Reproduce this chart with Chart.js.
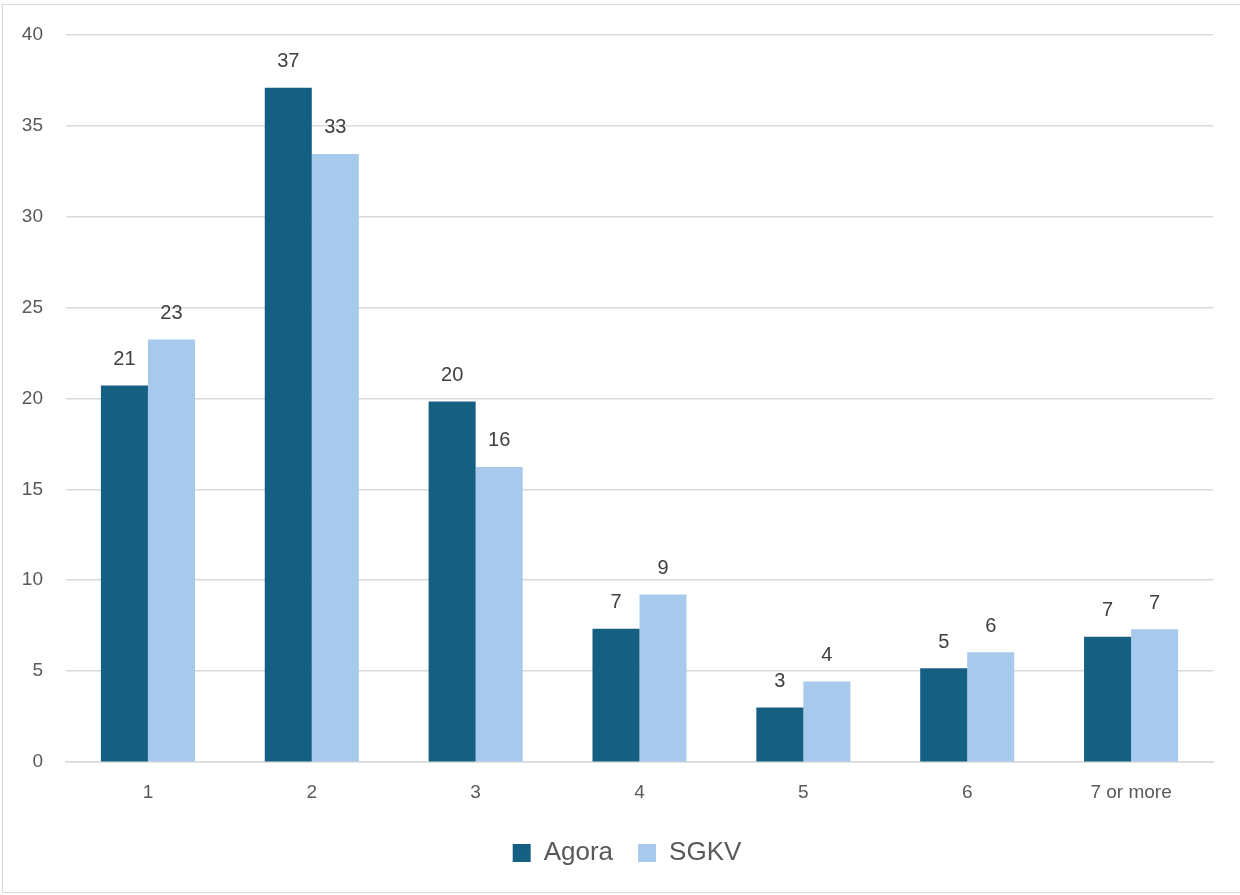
<!DOCTYPE html>
<html>
<head>
<meta charset="utf-8">
<script src="https://cdn.jsdelivr.net/npm/chart.js@4/dist/chart.umd.min.js"></script>
<style>
  html, body { margin: 0; padding: 0; background: #ffffff; }
  #wrap { position: relative; width: 1240px; height: 895px; }
  #frame { position: absolute; left: 2px; top: 4px; width: 1250px; height: 889px;
           border: 1px solid #d9d9d9; box-sizing: border-box; pointer-events: none; }
</style>
</head>
<body>
<div id="wrap">
  <canvas id="chart" width="1240" height="895"></canvas>
  <div id="frame"></div>
</div>
<script>
// Number of items per respondent, share (%) for each survey
const categories = ['1', '2', '3', '4', '5', '6', '7 or more'];
const agoraValues = [20.7, 37.07, 19.82, 7.33, 3.0, 5.16, 6.89];
const sgkvValues  = [23.23, 33.43, 16.23, 9.21, 4.43, 6.04, 7.31];
const yTicks = [0, 5, 10, 15, 20, 25, 30, 35, 40];

const FONT = "'Liberation Sans', Arial, sans-serif";

// Draws the rounded value above each bar
const valueLabels = {
  id: 'valueLabels',
  afterDatasetsDraw(chart) {
    const ctx = chart.ctx;
    ctx.save();
    ctx.font = '20px ' + FONT;
    ctx.fillStyle = '#404040';
    ctx.textAlign = 'center';
    ctx.textBaseline = 'middle';
    chart.data.datasets.forEach((ds, i) => {
      chart.getDatasetMeta(i).data.forEach((bar, j) => {
        ctx.fillText(String(Math.round(ds.data[j])), bar.x, bar.y - 26);
      });
    });
    ctx.restore();
  }
};

new Chart(document.getElementById('chart'), {
  type: 'bar',
  data: {
    labels: categories,
    datasets: [
      { label: 'Agora', data: agoraValues, backgroundColor: '#156082', borderWidth: 0 },
      { label: 'SGKV',  data: sgkvValues,  backgroundColor: '#a6c9ec', borderWidth: 0 }
    ]
  },
  options: {
    responsive: false,
    animation: false,
    devicePixelRatio: 1,
    layout: { padding: { top: 23, right: 0, left: 14, bottom: 19 } },
    datasets: { bar: { categoryPercentage: 0.574, barPercentage: 1.0 } },
    scales: {
      x: {
        grid: { display: false },
        border: { display: true, color: '#d9d9d9', width: 1.5 },
        ticks: { color: '#595959', font: { family: FONT, size: 19 }, padding: 11 }
      },
      y: {
        min: 0, max: 40,
        afterBuildTicks(axis) { axis.ticks = yTicks.map(v => ({ value: v })); },
        afterFit(axis) { axis.width = 52; },
        grid: { color: '#d9d9d9', lineWidth: 1.5, drawTicks: false },
        border: { display: false },
        ticks: { color: '#595959', font: { family: FONT, size: 19 }, padding: 23 }
      },
      // empty margin on the right of the plot
      yRight: {
        position: 'right',
        min: 0, max: 40,
        afterFit(axis) { axis.width = 27; },
        grid: { display: false, drawOnChartArea: false },
        border: { display: false },
        ticks: { display: false }
      }
    },
    plugins: {
      legend: {
        position: 'bottom',
        labels: {
          color: '#595959',
          font: { family: FONT, size: 26 },
          boxWidth: 18, boxHeight: 18,
          padding: 25
        }
      },
      tooltip: { enabled: false }
    }
  },
  plugins: [valueLabels]
});
</script>
</body>
</html>
